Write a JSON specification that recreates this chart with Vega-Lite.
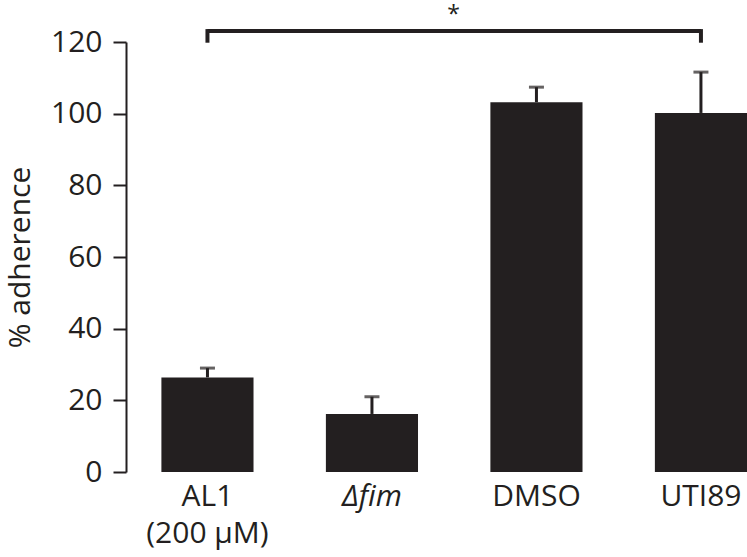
{
  "$schema": "https://vega.github.io/schema/vega-lite/v6.json",
  "width": 621,
  "height": 430,
  "autosize": "none",
  "padding": {"left": 126, "top": 42, "right": 0, "bottom": 85},
  "background": "white",
  "config": {
    "view": {"stroke": null},
    "font": "Open Sans",
    "axis": {"labelColor": "#231f20", "titleColor": "#231f20", "grid": false}
  },
  "datasets": {
    "bars": [
      {"group": "AL1 (200 µM)", "mean": 26.4, "upper": 29.0},
      {"group": "Δfim", "mean": 16.2, "upper": 21.0},
      {"group": "DMSO", "mean": 103.2, "upper": 107.4},
      {"group": "UTI89", "mean": 100.2, "upper": 111.6}
    ],
    "bracket": [
      {"from": "AL1 (200 µM)", "to": "UTI89", "y": 123.1, "label": "*"}
    ],
    "ends": [
      {"group": "AL1 (200 µM)", "low": 119.8, "high": 123.6},
      {"group": "UTI89", "low": 119.8, "high": 123.6}
    ]
  },
  "encoding": {
    "x": {
      "field": "group",
      "type": "nominal",
      "sort": null,
      "scale": {"domain": ["AL1 (200 µM)", "Δfim", "DMSO", "UTI89"], "paddingInner": 0.44, "paddingOuter": 0.1076, "align": 1},
      "axis": {
        "title": null,
        "domain": false,
        "ticks": false,
        "labelAngle": 0,
        "labelFontSize": 30,
        "labelPadding": 9,
        "labelLineHeight": 37,
        "labelExpr": "datum.value == 'AL1 (200 µM)' ? ['AL1', '(200 µM)'] : datum.value",
        "labelFontStyle": {"condition": {"test": "datum.value == 'Δfim'", "value": "italic"}, "value": "normal"}
      }
    }
  },
  "layer": [
    {
      "data": {"name": "bars"},
      "mark": {"type": "bar", "color": "#231f20"},
      "encoding": {
        "y": {
          "field": "mean",
          "type": "quantitative",
          "scale": {"domain": [0, 120], "nice": false},
          "axis": {
            "title": "% adherence",
            "titleFontSize": 30,
            "titleFontWeight": "normal",
            "titlePadding": 15,
            "values": [0, 20, 40, 60, 80, 100, 120],
            "labelFontSize": 30,
            "labelPadding": 11,
            "tickSize": 13,
            "tickWidth": 2,
            "tickColor": "#231f20",
            "domainWidth": 2,
            "domainColor": "#231f20"
          }
        }
      }
    },
    {
      "data": {"name": "bars"},
      "mark": {"type": "rule", "color": "#231f20", "strokeWidth": 3},
      "encoding": {
        "y": {"field": "mean", "type": "quantitative"},
        "y2": {"field": "upper"}
      }
    },
    {
      "data": {"name": "bars"},
      "mark": {"type": "tick", "color": "#231f20", "orient": "horizontal", "size": 15, "thickness": 3},
      "encoding": {
        "y": {"field": "upper", "type": "quantitative"}
      }
    },
    {
      "data": {"name": "bracket"},
      "mark": {"type": "rule", "color": "#231f20", "strokeWidth": 4},
      "encoding": {
        "x": {"field": "from", "type": "nominal"},
        "x2": {"field": "to"},
        "y": {"field": "y", "type": "quantitative"}
      }
    },
    {
      "data": {"name": "bracket"},
      "mark": {"type": "text", "color": "#231f20", "fontSize": 23, "baseline": "middle", "dx": 246, "dy": -16},
      "encoding": {
        "x": {"field": "from", "type": "nominal"},
        "y": {"field": "y", "type": "quantitative"},
        "text": {"field": "label"}
      }
    },
    {
      "data": {"name": "ends"},
      "mark": {"type": "rule", "color": "#231f20", "strokeWidth": 4},
      "encoding": {
        "y": {"field": "low", "type": "quantitative"},
        "y2": {"field": "high"}
      }
    }
  ]
}
